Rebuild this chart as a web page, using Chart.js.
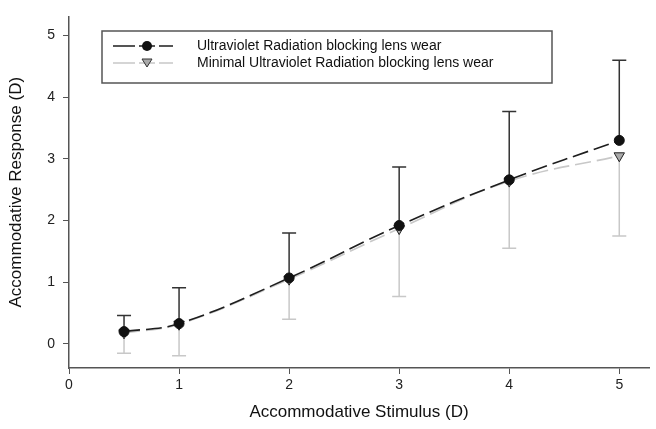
<!DOCTYPE html>
<html>
<head>
<meta charset="utf-8">
<script src="https://cdn.jsdelivr.net/npm/chart.js@4/dist/chart.umd.min.js"></script>
<style>
  html, body { margin: 0; padding: 0; background: #fff; }
  #wrap { width: 656px; height: 429px; }
</style>
</head>
<body>
<div id="wrap"><canvas id="chart" width="656" height="429"></canvas></div>
<script>
// Data
const stimulus = [0.5, 1, 2, 3, 4, 5];
const uvResponse = [0.20, 0.33, 1.07, 1.92, 2.66, 3.30];
const uvUpper = [0.46, 0.91, 1.80, 2.87, 3.77, 4.60];
const minResponse = [0.18, 0.32, 1.05, 1.87, 2.64, 3.05];
const minLower = [-0.15, -0.19, 0.40, 0.77, 1.55, 1.75];
const tickValues = [0, 1, 2, 3, 4, 5];
const legendLabels = ['Ultraviolet Radiation blocking lens wear', 'Minimal Ultraviolet Radiation blocking lens wear'];

const FONT = "'Liberation Sans', Arial, sans-serif";
const DARK = '#1e1e1e';
const LIGHT = '#c8c8c8';

// error bars: upper for UV series, lower for minimal series
const errorBars = {
    id: 'errorBars',
    beforeDatasetsDraw(chart) {
        const ctx = chart.ctx;
        const xs = chart.scales.x, ys = chart.scales.y;
        const cap = 7;
        const drawBar = (x, y0, y1, color) => {
            const px = xs.getPixelForValue(x);
            const p0 = ys.getPixelForValue(y0);
            const p1 = ys.getPixelForValue(y1);
            ctx.save();
            ctx.strokeStyle = color;
            ctx.lineWidth = 1.5;
            ctx.beginPath();
            ctx.moveTo(px, p0);
            ctx.lineTo(px, p1);
            ctx.moveTo(px - cap, p1);
            ctx.lineTo(px + cap, p1);
            ctx.stroke();
            ctx.restore();
        };
        stimulus.forEach((x, i) => {
            drawBar(x, minResponse[i], minLower[i], LIGHT);
            drawBar(x, uvResponse[i], uvUpper[i], '#333');
        });
    }
};

// boxed legend inside the plot
const boxLegend = {
    id: 'boxLegend',
    afterDraw(chart) {
        const ctx = chart.ctx;
        ctx.save();
        ctx.strokeStyle = '#555';
        ctx.lineWidth = 1.5;
        ctx.strokeRect(102, 31, 450, 52);
        const rows = [
            { y: 46, color: DARK, marker: 'circle' },
            { y: 63, color: LIGHT, marker: 'triangle' }
        ];
        rows.forEach((r, i) => {
            ctx.strokeStyle = r.color;
            ctx.lineWidth = 1.5;
            ctx.beginPath();
            ctx.moveTo(113, r.y); ctx.lineTo(135, r.y);
            ctx.moveTo(139, r.y); ctx.lineTo(155, r.y);
            ctx.moveTo(159, r.y); ctx.lineTo(173, r.y);
            ctx.stroke();
            if (r.marker === 'circle') {
                ctx.fillStyle = '#111';
                ctx.beginPath();
                ctx.arc(147, r.y, 5, 0, Math.PI * 2);
                ctx.fill();
            } else {
                ctx.fillStyle = '#aaa';
                ctx.strokeStyle = '#333';
                ctx.lineWidth = 1;
                ctx.beginPath();
                ctx.moveTo(142, r.y - 4);
                ctx.lineTo(152, r.y - 4);
                ctx.lineTo(147, r.y + 4);
                ctx.closePath();
                ctx.fill();
                ctx.stroke();
            }
            ctx.fillStyle = '#111';
            ctx.font = '14px ' + FONT;
            ctx.textBaseline = 'middle';
            ctx.fillText(legendLabels[i], 197, r.y);
        });
        ctx.restore();
    }
};

const keepTicks = scale => {
    scale.ticks = tickValues.map(v => ({ value: v }));
};

new Chart(document.getElementById('chart'), {
    type: 'line',
    data: {
        datasets: [
            {
                label: legendLabels[0],
                data: stimulus.map((x, i) => ({ x: x, y: uvResponse[i] })),
                borderColor: DARK,
                borderWidth: 1.6,
                borderDash: [16, 6],
                pointStyle: 'circle',
                pointRadius: 5,
                pointBackgroundColor: '#111',
                pointBorderColor: '#111',
                pointBorderWidth: 1,
                tension: 0.4,
                fill: false
            },
            {
                label: legendLabels[1],
                data: stimulus.map((x, i) => ({ x: x, y: minResponse[i] })),
                borderColor: LIGHT,
                borderWidth: 1.6,
                borderDash: [16, 6],
                pointStyle: 'triangle',
                rotation: 180,
                pointRadius: 6,
                pointBackgroundColor: '#aaa',
                pointBorderColor: '#222',
                pointBorderWidth: 1,
                tension: 0.4,
                fill: false
            }
        ]
    },
    options: {
        responsive: false,
        animation: false,
        layout: { padding: { top: 3, right: 6, left: 0, bottom: 0 } },
        plugins: {
            legend: { display: false },
            tooltip: { enabled: false }
        },
        scales: {
            x: {
                type: 'linear',
                min: 0,
                max: 5.27,
                afterBuildTicks: keepTicks,
                afterFit: s => { s.height = 61; },
                border: { display: true, color: '#555', width: 1.5 },
                grid: { drawOnChartArea: false, drawTicks: true, tickLength: 6, color: '#555' },
                ticks: { color: '#222', font: { family: FONT, size: 14 }, padding: 3 },
                title: { display: true, text: 'Accommodative Stimulus (D)', color: '#111', font: { family: FONT, size: 17 }, padding: { top: 0, bottom: 6 } }
            },
            y: {
                type: 'linear',
                min: -0.39,
                max: 5.31,
                afterBuildTicks: keepTicks,
                afterFit: s => { s.width = 69; },
                border: { display: true, color: '#555', width: 1.5 },
                grid: { drawOnChartArea: false, drawTicks: true, tickLength: 6, color: '#555' },
                ticks: { color: '#222', font: { family: FONT, size: 14 }, padding: 8 },
                title: { display: true, text: 'Accommodative Response (D)', color: '#111', font: { family: FONT, size: 17 }, padding: { top: 6, bottom: 0 } }
            }
        }
    },
    plugins: [errorBars, boxLegend]
});
</script>
</body>
</html>
